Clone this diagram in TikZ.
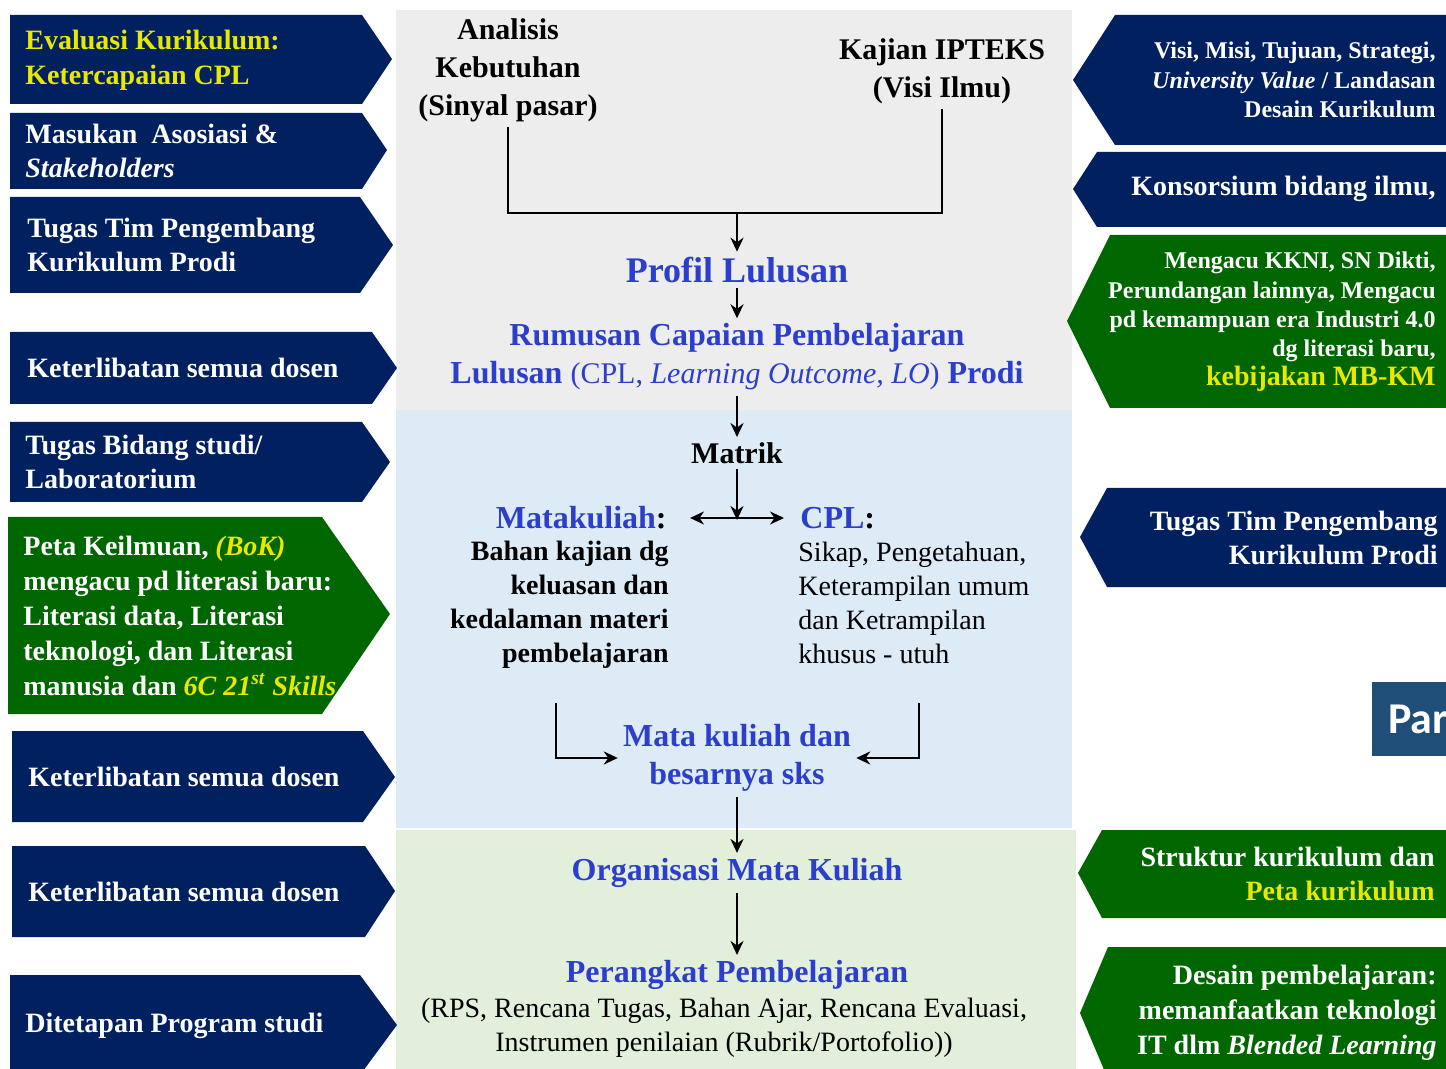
\documentclass[tikz,border=0pt]{standalone}
\usepackage{fontspec}
\setmainfont{Liberation Serif}
\newfontfamily\sansfont{Carlito}
\usetikzlibrary{arrows.meta}
\definecolor{navy}{RGB}{0,32,96}
\definecolor{leaf}{RGB}{0,102,0}
\definecolor{yel}{RGB}{232,232,0}
\definecolor{ink}{RGB}{44,62,204}
\definecolor{panelgray}{RGB}{237,237,237}
\definecolor{panelblue}{RGB}{221,235,247}
\definecolor{panelgreen}{RGB}{226,239,218}
\definecolor{steel}{RGB}{31,78,121}
\begin{document}
\begin{tikzpicture}[x=0.5pt, y=-0.5pt, >={Stealth[length=7pt,width=6.5pt]}, line width=1.4pt,
    sidetext/.style={font=\bfseries\fontsize{14}{17.4}\selectfont, text=white, inner sep=0pt},
    sidesmall/.style={font=\bfseries\fontsize{12}{14.6}\selectfont},
    flow/.style={font=\bfseries\fontsize{15}{19}\selectfont, align=center, inner sep=2pt},
    stage/.style={font=\bfseries\fontsize{16}{19}\selectfont, text=ink, align=center, inner sep=2pt},
    bodytext/.style={font=\fontsize{14}{17}\selectfont, inner sep=0pt}]
    \useasboundingbox (0,0) rectangle (1446,1069);

    % Background panels
    \fill[panelgray] (396,10) rectangle (1072,410);
    \fill[panelblue] (396,410) rectangle (1072,828);
    \fill[panelgreen] (396,830) rectangle (1076,1075);

    % Left tabs (pointing right)
    \fill[navy] (10,15) -- (362,15) -- (392,59) -- (362,104) -- (10,104) -- cycle;
    \fill[navy] (10,113) -- (362,113) -- (387,150) -- (362,189) -- (10,189) -- cycle;
    \fill[navy] (10,197) -- (360,197) -- (393,245) -- (360,293) -- (10,293) -- cycle;
    \fill[navy] (10,332) -- (372,332) -- (397,368) -- (372,404) -- (10,404) -- cycle;
    \fill[navy] (10,422) -- (362,422) -- (390,462) -- (362,502) -- (10,502) -- cycle;
    \fill[leaf] (8,517) -- (322,517) -- (390,614) -- (322,714) -- (8,714) -- cycle;
    \fill[navy] (12,731) -- (363,731) -- (395,777) -- (363,822) -- (12,822) -- cycle;
    \fill[navy] (12,846) -- (365,846) -- (395,891) -- (365,937) -- (12,937) -- cycle;
    \fill[navy] (10,975) -- (360,975) -- (397,1025) -- (360,1075) -- (10,1075) -- cycle;

    \node[sidetext, text=yel, anchor=west, align=left] (evaluasi) at (24,60) {Evaluasi Kurikulum:\\Ketercapaian CPL};
    \node[sidetext, anchor=west, align=left] (masukan) at (24,151) {Masukan\ \ Asosiasi \&\\\textit{Stakeholders}};
    \node[sidetext, anchor=west, align=left] (timkiri) at (26,245) {Tugas Tim Pengembang\\Kurikulum Prodi};
    \node[sidetext, anchor=west] (dosenA) at (26,368) {Keterlibatan semua dosen};
    \node[sidetext, anchor=west, align=left] (bidang) at (24,462) {Tugas Bidang studi/\\Laboratorium};
    \node[sidetext, anchor=west, align=left] (peta) at (22,616) {Peta Keilmuan, \textcolor{yel}{\textit{(BoK)}}\\mengacu pd literasi baru:\\Literasi data, Literasi\\teknologi, dan Literasi\\manusia dan \textcolor{yel}{\textit{6C 21\textsuperscript{st} Skills}}};
    \node[sidetext, anchor=west] (dosenB) at (27,777) {Keterlibatan semua dosen};
    \node[sidetext, anchor=west] (dosenC) at (27,892) {Keterlibatan semua dosen};
    \node[sidetext, anchor=west] (ditetapan) at (24,1026) {Ditetapan Program studi};

    % Right tabs (pointing left)
    \fill[navy] (1450,15) -- (1115,15) -- (1073,80) -- (1115,145) -- (1450,145) -- cycle;
    \fill[navy] (1450,152) -- (1097,152) -- (1073,189) -- (1097,227) -- (1450,227) -- cycle;
    \fill[leaf] (1450,235) -- (1110,235) -- (1067,321) -- (1110,408) -- (1450,408) -- cycle;
    \fill[navy] (1450,488) -- (1107,488) -- (1080,537) -- (1107,587) -- (1450,587) -- cycle;
    \fill[leaf] (1450,830) -- (1102,830) -- (1078,873) -- (1102,918) -- (1450,918) -- cycle;
    \fill[leaf] (1450,947) -- (1108,947) -- (1080,1013) -- (1108,1079) -- (1450,1079) -- cycle;
    \fill[steel] (1372,682) rectangle (1450,756);

    \node[sidetext, sidesmall, text=white, anchor=east, align=right] (visi) at (1437,80) {Visi, Misi, Tujuan, Strategi,\\\textit{University Value} / Landasan\\Desain Kurikulum};
    \node[sidetext, anchor=east] (konsorsium) at (1437,189) {Konsorsium bidang ilmu,};
    \node[sidetext, sidesmall, text=white, anchor=east, align=right] (kkni) at (1437,322) {Mengacu KKNI, SN Dikti,\\Perundangan lainnya, Mengacu\\pd kemampuan era Industri 4.0\\dg literasi baru,\\\textcolor{yel}{\fontsize{14}{15}\selectfont kebijakan MB-KM}};
    \node[sidetext, anchor=east, align=right] (timkanan) at (1439,538) {Tugas Tim Pengembang\\Kurikulum Prodi};
    \node[font=\sansfont\bfseries\fontsize{22}{24}\selectfont, text=white, anchor=west, inner sep=0pt] (par) at (1387,719) {Par};
    \node[sidetext, anchor=east, align=right] (struktur) at (1436,874) {Struktur kurikulum dan\\\textcolor{yel}{Peta kurikulum}};
    \node[sidetext, anchor=east, align=right] (desain) at (1438,1013) {Desain pembelajaran:\\memanfaatkan teknologi\\IT dlm \textit{Blended Learning}};

    % Central flow
    \node[flow] (analisis) at (508,70) {Analisis\\Kebutuhan\\(Sinyal pasar)};
    \node[flow] (kajian) at (942,71) {Kajian IPTEKS\\(Visi Ilmu)};
    \coordinate (join) at (737,213);
    \node[stage, font=\bfseries\fontsize{18}{21}\selectfont] (profil) at (737,270) {Profil Lulusan};
    \node[stage] (rumusan) at (737,357) {Rumusan Capaian Pembelajaran\\Lulusan {\mdseries\fontsize{15}{19}\selectfont (CPL, \textit{Learning Outcome, LO})} Prodi};
    \node[flow] (matrik) at (737,453) {Matrik};
    \coordinate (split) at (737,520);
    \node[stage, anchor=east] (matakuliah) at (672,518) {Matakuliah\textcolor{black}{:}};
    \node[stage, anchor=west] (cpl) at (795,518) {CPL\textcolor{black}{:}};
    \node[bodytext, font=\bfseries\fontsize{14}{17}\selectfont, anchor=north east, align=right] (bahan) at (670,540) {Bahan kajian dg\\keluasan dan\\kedalaman materi\\pembelajaran};
    \node[bodytext, anchor=north west, align=left] (sikap) at (797,541) {Sikap, Pengetahuan,\\Keterampilan umum\\dan Ketrampilan\\khusus - utuh};
    \coordinate (bahanfoot) at (556,703);
    \coordinate (sikapfoot) at (919,703);
    \node[stage] (matakuliahsks) at (737,758) {Mata kuliah dan\\besarnya sks};
    \node[stage] (organisasi) at (737,873) {Organisasi Mata Kuliah};
    \node[stage] (perangkat) at (737,975) {Perangkat Pembelajaran};
    \node[bodytext, align=center] (rincian) at (724,1028) {(RPS, Rencana Tugas, Bahan Ajar, Rencana Evaluasi,\\Instrumen penilaian (Rubrik/Portofolio))};

    % Connectors
    \draw (analisis.south) |- (join) -| (kajian.south);
    \draw[->] (join) -- (profil);
    \draw[->] (profil) -- (rumusan);
    \draw[->] (rumusan) -- (matrik);
    \draw[->] (matrik) -- (split);
    \draw[<->, shorten <=9pt, shorten >=5.5pt] (matakuliah.east) -- (cpl.west);
    \draw[->] (bahanfoot) |- (matakuliahsks.west);
    \draw[->] (sikapfoot) |- (matakuliahsks.east);
    \draw[->] (matakuliahsks) -- (organisasi);
    \draw[->] (organisasi) -- (perangkat);
\end{tikzpicture}
\end{document}
